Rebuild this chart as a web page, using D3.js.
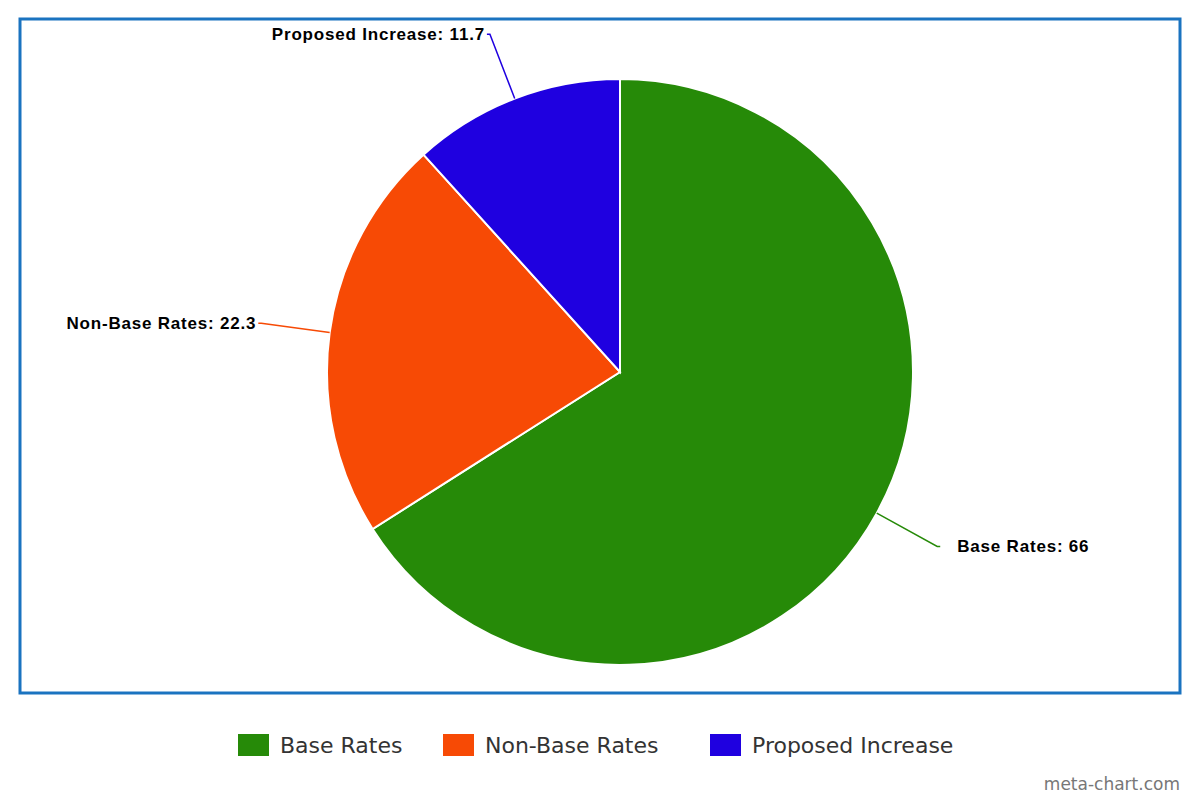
<!DOCTYPE html>
<html>
<head>
<meta charset="utf-8">
<script src="https://cdn.jsdelivr.net/npm/d3@7"></script>
<style>
  body { margin: 0; background: #fff; }
</style>
</head>
<body>
<svg id="chart" width="1200" height="800"></svg>
<script>
const categories = ["Base Rates", "Non-Base Rates", "Proposed Increase"];
const values = [66, 22.3, 11.7];
const colors = ["#268a08", "#f74a05", "#1f00e0"];

const svg = d3.select("#chart");

// frame
svg.append("rect")
  .attr("x", 20).attr("y", 19)
  .attr("width", 1160).attr("height", 674)
  .attr("fill", "none")
  .attr("stroke", "#1a73c0")
  .attr("stroke-width", 3);

const cx = 620, cy = 372, r = 293;
const pie = d3.pie().sort(null).value(d => d)(values);
const arc = d3.arc().innerRadius(0).outerRadius(r);

const g = svg.append("g").attr("transform", `translate(${cx},${cy})`);

g.selectAll("path.slice")
  .data(pie)
  .join("path")
  .attr("class", "slice")
  .attr("d", arc)
  .attr("fill", (d, i) => colors[i])
  .attr("stroke", "#fff")
  .attr("stroke-width", 2);

// labels with curved connectors
const pt = (a, rad) => [rad * Math.sin(a), -rad * Math.cos(a)];
pie.forEach((d, i) => {
  const a = (d.startAngle + d.endAngle) / 2;
  const p0 = pt(a, r);
  const p1 = pt(a, r + 40);
  const p2 = pt(a, 362);
  const right = p2[0] > 0;
  const end = [p2[0] + (right ? 3 : -3), p2[1]];
  g.append("path")
    .attr("d", `M${p0[0]},${p0[1]} Q${p1[0]},${p1[1]} ${p2[0]},${p2[1]} L${end[0]},${end[1]}`)
    .attr("fill", "none")
    .attr("stroke", colors[i])
    .attr("stroke-width", 1.5);
  g.append("text")
    .attr("x", right ? end[0] + 17 : end[0] - 2)
    .attr("y", end[1] + 6)
    .attr("text-anchor", right ? "start" : "end")
    .attr("font-family", "Liberation Sans, Arial, sans-serif")
    .attr("font-weight", "bold")
    .attr("font-size", 17)
    .attr("letter-spacing", 0.8)
    .attr("fill", "#000")
    .text(`${categories[i]}: ${values[i]}`);
});

// legend
const legendX = [238, 443, 710];
const lg = svg.append("g");
categories.forEach((c, i) => {
  lg.append("rect")
    .attr("x", legendX[i]).attr("y", 734)
    .attr("width", 31).attr("height", 22)
    .attr("fill", colors[i]);
  lg.append("text")
    .attr("x", legendX[i] + 42).attr("y", 753)
    .attr("font-family", "DejaVu Sans, sans-serif")
    .attr("font-size", 22)
    .attr("fill", "#333")
    .text(c);
});

svg.append("text")
  .attr("x", 1180).attr("y", 790)
  .attr("text-anchor", "end")
  .attr("font-family", "DejaVu Sans, sans-serif")
  .attr("font-size", 17)
  .attr("fill", "#777")
  .text("meta-chart.com");
</script>
</body>
</html>
